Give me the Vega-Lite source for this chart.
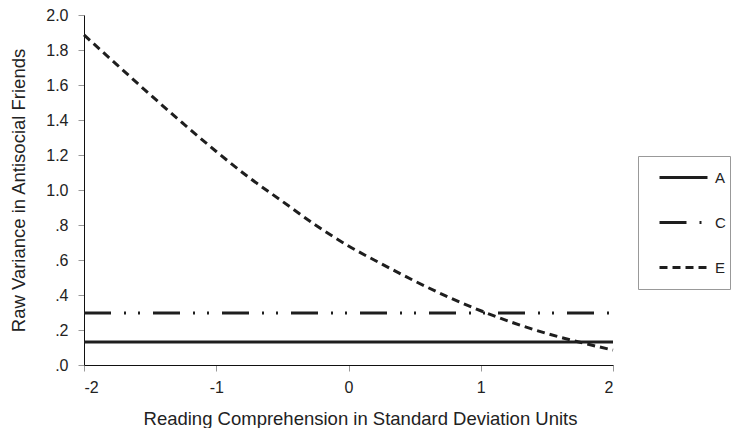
{
  "$schema": "https://vega.github.io/schema/vega-lite/v6.json",
  "width": 529,
  "height": 350,
  "autosize": "none",
  "padding": {"left": 84, "top": 15, "right": 120, "bottom": 63},
  "background": "white",
  "config": {
    "view": {"stroke": null},
    "font": "Liberation Sans",
    "axis": {
      "grid": false,
      "domainColor": "#111",
      "domainWidth": 1,
      "tickColor": "#999",
      "tickSize": 6,
      "labelColor": "#222",
      "titleFontWeight": "normal",
      "titleColor": "#222",
      "labelFont": "Liberation Sans",
      "titleFont": "Liberation Sans"
    }
  },
  "data": {
    "values": [
      {"x": -2, "y": 0.132, "s": "A"},
      {"x": 2, "y": 0.132, "s": "A"},
      {"x": -2, "y": 0.297, "s": "C"},
      {"x": 2, "y": 0.297, "s": "C"},
      {"x": -2, "y": 1.886, "s": "E"},
      {"x": -1.75, "y": 1.715, "s": "E"},
      {"x": -1.5, "y": 1.545, "s": "E"},
      {"x": -1.25, "y": 1.38, "s": "E"},
      {"x": -1, "y": 1.22, "s": "E"},
      {"x": -0.75, "y": 1.07, "s": "E"},
      {"x": -0.5, "y": 0.935, "s": "E"},
      {"x": -0.25, "y": 0.8, "s": "E"},
      {"x": 0, "y": 0.68, "s": "E"},
      {"x": 0.25, "y": 0.578, "s": "E"},
      {"x": 0.5, "y": 0.48, "s": "E"},
      {"x": 0.75, "y": 0.39, "s": "E"},
      {"x": 1, "y": 0.31, "s": "E"},
      {"x": 1.25, "y": 0.24, "s": "E"},
      {"x": 1.5, "y": 0.18, "s": "E"},
      {"x": 1.75, "y": 0.13, "s": "E"},
      {"x": 2, "y": 0.085, "s": "E"}
    ]
  },
  "mark": {"type": "line", "strokeWidth": 3, "color": "#1e1e1e", "interpolate": "monotone"},
  "encoding": {
    "x": {
      "field": "x", "type": "quantitative",
      "scale": {"domain": [-2, 2], "nice": false, "zero": false},
      "axis": {"values": [-2, -1, 0, 1, 2], "labelExpr": "'' + datum.value", "title": "Reading Comprehension in Standard Deviation Units", "titlePadding": 14, "labelPadding": 8, "labelFontSize": 16, "titleFontSize": 18.5, "titleX": 276}
    },
    "y": {
      "field": "y", "type": "quantitative",
      "scale": {"domain": [0, 2], "nice": false},
      "axis": {
        "values": [0, 0.2, 0.4, 0.6, 0.8, 1.0, 1.2, 1.4, 1.6, 1.8, 2.0],
        "labelExpr": "datum.value < 0.99 ? replace(format(datum.value, '.1f'), '0.', '.') : format(datum.value, '.1f')",
        "title": "Raw Variance in Antisocial Friends",
        "titlePadding": 17,
        "labelPadding": 10,
        "labelFontSize": 16,
        "titleFontSize": 18.5
      }
    },
    "strokeDash": {
      "field": "s", "type": "nominal",
      "scale": {"domain": ["A", "C", "E"], "range": [[1, 0], [27, 13, 2, 12, 2, 13], [8, 5]]},
      "legend": {
        "title": null,
        "orient": "none",
        "legendX": 554,
        "legendY": 141,
        "strokeColor": "#999",
        "fillColor": "white",
        "padding": 4,
        "symbolType": "stroke",
        "symbolSize": 2304,
        "symbolStrokeWidth": 3,
        "symbolStrokeColor": "#1e1e1e",
        "symbolOffset": 16,
        "clipHeight": 35,
        "rowPadding": 10,
        "labelOffset": 6,
        "labelFontSize": 15,
        "labelColor": "#222",
        "labelFont": "Liberation Sans"
      }
    }
  }
}
